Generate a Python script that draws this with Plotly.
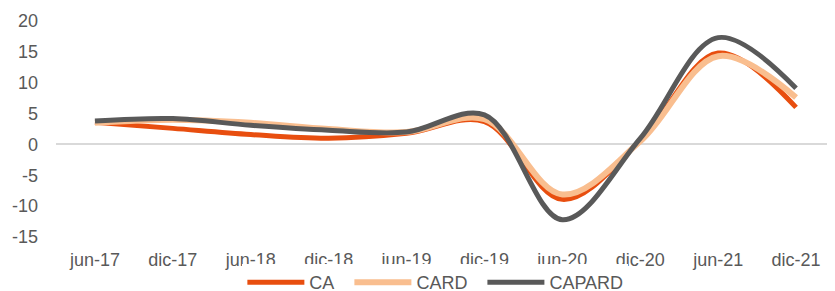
import plotly.graph_objects as go

categories = ["jun-17", "dic-17", "jun-18", "dic-18", "jun-19", "dic-19", "jun-20", "dic-20", "jun-21", "dic-21"]
ca = [3.6, 2.6, 1.6, 1.0, 1.8, 3.7, -8.9, 0.6, 14.8, 6.0]
card = [3.5, 4.0, 3.5, 2.5, 2.0, 4.1, -8.1, 0.5, 14.3, 7.6]
capard = [3.8, 4.2, 3.1, 2.3, 2.0, 4.8, -12.2, 1.0, 17.3, 9.1]
series_names = ["CA", "CARD", "CAPARD"]
y_ticks = [-15, -10, -5, 0, 5, 10, 15, 20]
y_tick_labels = ["-15", "-10", "-5", "0", "5", "10", "15", "20"]

font = dict(family="Liberation Sans, Arial, sans-serif", size=18, color="#595959")
pad = "\u00a0\u00a0"

fig = go.Figure()
styles = [("#E84E0F", 5, pad), ("#F9BE8F", 6, pad), ("#595959", 5, "")]
for name, vals, (color, w, p) in zip(series_names, [ca, card, capard], styles):
    fig.add_trace(go.Scatter(x=categories, y=vals, name=name + p, mode="lines",
                             line=dict(color=color, width=w, shape="spline", smoothing=1.0)))

# page body has an 8px default margin, so the figure is 8px smaller each way
fig.update_layout(
    width=827, height=283,
    margin=dict(l=48, r=0, t=13, b=54, autoexpand=False),
    paper_bgcolor="white", plot_bgcolor="white",
    font=font,
    showlegend=True,
    legend=dict(orientation="h", x=0.487, xanchor="center", yref="container", y=0.03, yanchor="middle",
                font=font, itemwidth=57, tracegroupgap=0),
    xaxis=dict(type="category", showgrid=False, showline=False, zeroline=False,
               ticks="", tickfont=font, range=[-0.5, 9.5], ticklabelstandoff=10, automargin=False),
    yaxis=dict(range=[-15, 20], showgrid=False, showline=False, zeroline=True,
               zerolinecolor="#D9D9D9", zerolinewidth=1.5,
               tickmode="array", tickvals=y_ticks, ticktext=y_tick_labels,
               tickfont=font, ticks="", ticklabelstandoff=17, automargin=False),
)

fig.write_html("out.html")
